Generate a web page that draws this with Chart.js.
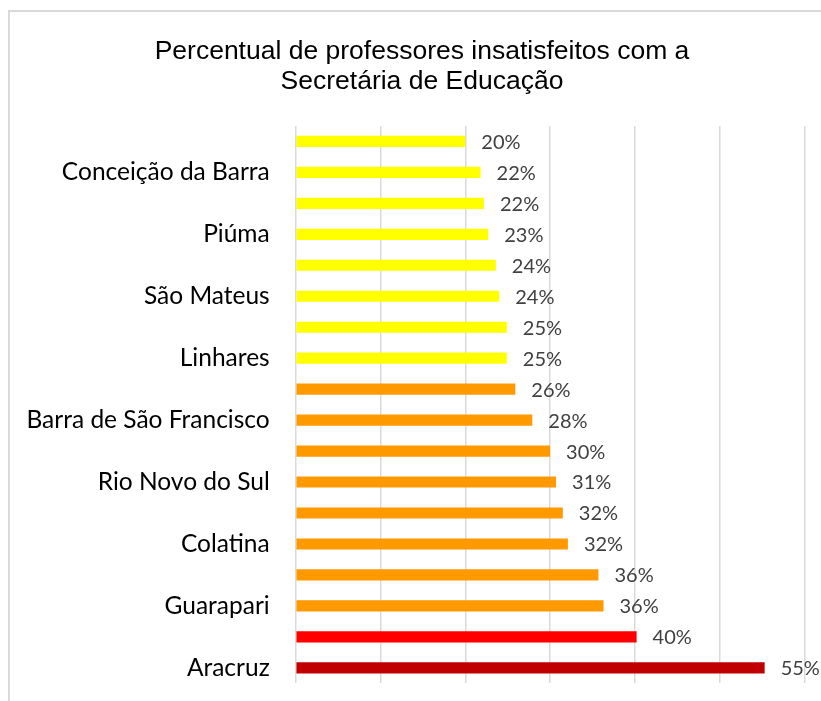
<!DOCTYPE html>
<html>
<head>
<meta charset="utf-8">
<script src="https://cdn.jsdelivr.net/npm/chart.js@4.4.1/dist/chart.umd.min.js"></script>
<style>
    html, body { margin: 0; padding: 0; background: #ffffff; overflow: hidden; }
    .chart-frame {
        position: absolute;
        left: 8px;
        top: 10px;
        width: 830px;
        height: 730px;
        border: 2px solid #d9d9d9;
        box-sizing: border-box;
    }
    .chart-box {
        position: absolute;
        left: 0;
        top: 0;
        width: 811px;
        height: 712px;
    }
</style>
</head>
<body>
<div class="chart-frame">
    <div class="chart-box"><canvas id="insatisfeitosChart"></canvas></div>
</div>
<script>
// municipalities, top to bottom (only every other name is printed in the original)
const municipios = [
    "", "Conceição da Barra", "", "Piúma", "", "São Mateus", "", "Linhares", "",
    "Barra de São Francisco", "", "Rio Novo do Sul", "", "Colatina", "", "Guarapari", "", "Aracruz"
]
const percentuais = [20.0, 21.8, 22.2, 22.7, 23.6, 24.0, 24.9, 24.9, 25.9, 27.9, 30.0, 30.7, 31.5, 32.1, 35.7, 36.3, 40.2, 55.3]
const faixas = ["baixa", "baixa", "baixa", "baixa", "baixa", "baixa", "baixa", "baixa", "media",
    "media", "media", "media", "media", "media", "media", "media", "alta", "critica"]
const coresFaixa = { baixa: "#ffff00", media: "#ff9900", alta: "#ff0000", critica: "#c00000" }
const tituloLinhas = ["Percentual de professores insatisfeitos com a", "Secretária de Educação"]

// value labels next to each bar
const rotulosPlugin = {
    id: "rotulos",
    afterDatasetsDraw(chart) {
        const ctx = chart.ctx
        const meta = chart.getDatasetMeta(0)
        ctx.save()
        ctx.font = "20px Lato, 'Open Sans', sans-serif"
        ctx.fillStyle = "#404040"
        ctx.textAlign = "left"
        ctx.textBaseline = "middle"
        meta.data.forEach((bar, i) => {
            ctx.fillText(Math.round(percentuais[i]) + "%", bar.x + 16, bar.y + 1)
        })
        ctx.restore()
    }
}

// the title in the original sits a bit right of the canvas centre
const tituloDeslocado = {
    id: "tituloDeslocado",
    afterLayout(chart) {
        if (chart.titleBlock) {
            chart.titleBlock.left += 14.75
            chart.titleBlock.right += 14.75
        }
    }
}

new Chart(document.getElementById("insatisfeitosChart"), {
    type: "bar",
    data: {
        labels: municipios,
        datasets: [
            {
                label: "Insatisfeitos",
                data: percentuais,
                backgroundColor: faixas.map(f => coresFaixa[f]),
                borderWidth: 0,
                categoryPercentage: 1,
                barPercentage: 0.36,
            }
        ]
    },
    options: {
        indexAxis: "y",
        responsive: true,
        maintainAspectRatio: false,
        animation: false,
        layout: { padding: { left: 0, right: 16.5, top: 0, bottom: 4 } },
        plugins: {
            legend: { display: false },
            tooltip: { enabled: false },
            title: {
                display: true,
                text: tituloLinhas,
                color: "#000000",
                font: { family: "'Liberation Sans', Arial, sans-serif", size: 26.5, weight: "normal", lineHeight: 1.15 },
                padding: { top: 24, bottom: 29 }
            }
        },
        scales: {
            x: {
                min: 0,
                max: 60,
                ticks: { display: false, stepSize: 10 },
                grid: { color: "#d9d9d9", lineWidth: 1.5, drawTicks: false },
                border: { display: false }
            },
            y: {
                afterFit(scale) { scale.width = 285.7 },
                ticks: {
                    autoSkip: false,
                    color: "#000000",
                    padding: 26,
                    font: { family: "Lato, 'Open Sans', sans-serif", size: 24.5 }
                },
                grid: { display: false, drawTicks: false },
                border: { display: false }
            }
        }
    },
    plugins: [rotulosPlugin, tituloDeslocado]
})
</script>
</body>
</html>
